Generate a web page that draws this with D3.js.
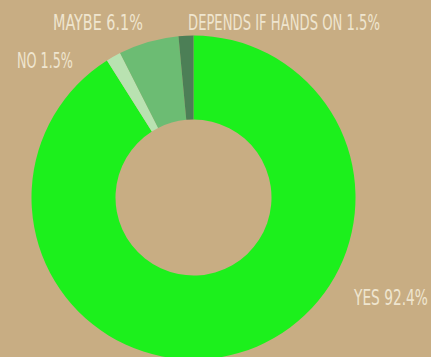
<!DOCTYPE html>
<html>
<head>
<meta charset="utf-8">
<script src="https://cdn.jsdelivr.net/npm/d3@7"></script>
<style>
  html, body { margin: 0; padding: 0; background: #c8ad83; }
  svg { display: block; }
  .lbl { font-family: "Liberation Sans Narrow", "DejaVu Sans Condensed", "Liberation Sans", sans-serif; fill: #efe5cf; }
</style>
</head>
<body>
<svg id="chart" width="431" height="357"></svg>
<script>
// Survey answers, in clockwise order starting from 12 o'clock
const categories = ["YES", "NO", "MAYBE", "DEPENDS IF HANDS ON"];
const values = [92.4, 1.5, 6.1, 1.5];
const colors = ["#1cf01c", "#b9e2b1", "#6cbc73", "#4c7f56"];

const W = 431, H = 357;
const cx = 193.5, cy = 197.5;
const outerR = 162, innerR = 78;

const svg = d3.select("#chart");
const g = svg.append("g").attr("transform", `translate(${cx},${cy})`);

const data = categories.map((c, i) => ({ name: c, value: values[i], color: colors[i] }));

const pie = d3.pie().sort(null).value(d => d.value);
const arc = d3.arc().innerRadius(innerR).outerRadius(outerR);

g.selectAll("path")
  .data(pie(data))
  .join("path")
  .attr("d", arc)
  .attr("fill", d => d.data.color);

// Slice labels: baseline anchor, target width and cap height
const labelPos = {
  "YES": { x: 354, y: 305, w: 74 },
  "NO": { x: 17, y: 68, w: 56 },
  "MAYBE": { x: 53, y: 30, w: 90 },
  "DEPENDS IF HANDS ON": { x: 188, y: 30, w: 192 }
};
const capHeight = 15;

svg.selectAll("text.lbl")
  .data(data)
  .join("text")
  .attr("class", "lbl")
  .attr("font-size", 16)
  .text(d => `${d.name} ${d.value}%`)
  .each(function (d) {
    // size the font to the target width, then stretch vertically to a tall, narrow look
    const p = labelPos[d.name];
    const natural = this.getComputedTextLength();
    const size = 16 * p.w / natural;
    const sy = capHeight / (0.73 * size);
    d3.select(this)
      .attr("font-size", size)
      .attr("transform", `translate(${p.x},${p.y}) scale(1,${sy})`);
  });
</script>
</body>
</html>
